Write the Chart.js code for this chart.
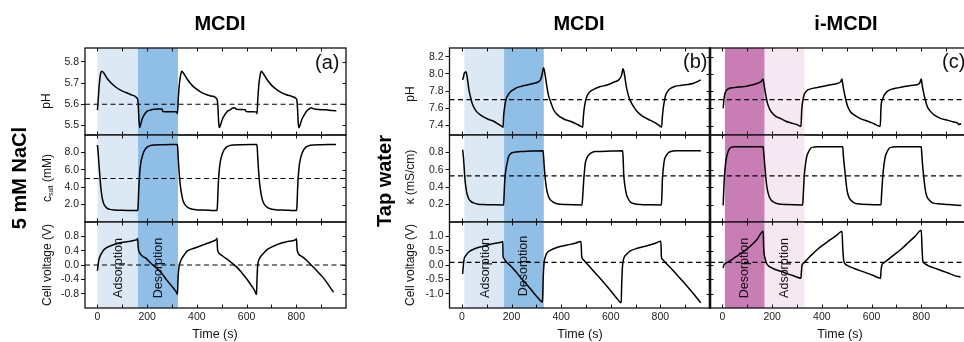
<!DOCTYPE html>
<html>
<head>
<meta charset="utf-8">
<title>MCDI / i-MCDI cycles</title>
<script src="https://cdn.jsdelivr.net/npm/chart.js@4.4.1/dist/chart.umd.min.js"></script>
<style>
  html, body { margin: 0; padding: 0; background: #fff; }
  #stage { position: relative; width: 964px; height: 342px; overflow: hidden; font-family: "Liberation Sans", Arial, sans-serif; color: #000; }
  #stage canvas { position: absolute; left: 0; top: 0; z-index: 1; }
  .txt { position: absolute; z-index: 2; white-space: nowrap; line-height: 1; transform: translate(-50%, -50%); }
  .vert { transform: translate(-50%, -50%) rotate(-90deg); }
  .title { font-size: 20px; font-weight: bold; }
  .rowlab { font-size: 20px; font-weight: bold; }
  .ytitle { font-size: 12px; color: #111; }
  .xtitle { font-size: 12.5px; color: #111; }
  .phase { font-size: 12.5px; color: #111; }
  .plab { font-size: 20px; transform: translate(0, -50%); color: #111; }
  sub { font-size: 7px; vertical-align: -2px; }
</style>
</head>
<body>
<div id="stage">
  <!-- column titles -->
  <div class="txt title" style="left:220px; top:23px">MCDI</div>
  <div class="txt title" style="left:579px; top:23px">MCDI</div>
  <div class="txt title" style="left:846px; top:23px">i-MCDI</div>

  <!-- row labels -->
  <div class="txt vert rowlab" style="left:19px; top:178px">5 mM NaCl</div>
  <div class="txt vert rowlab" style="left:384px; top:181px">Tap water</div>

  <!-- y axis titles -->
  <div class="txt vert ytitle" style="left:46px; top:101px">pH</div>
  <div class="txt vert ytitle" style="left:47px; top:178px">c<sub>salt</sub> (mM)</div>
  <div class="txt vert ytitle" style="left:47px; top:265px">Cell voltage (V)</div>
  <div class="txt vert ytitle" style="left:410px; top:94px">pH</div>
  <div class="txt vert ytitle" style="left:410px; top:177px">κ (mS/cm)</div>
  <div class="txt vert ytitle" style="left:410px; top:265px">Cell voltage (V)</div>

  <!-- x axis titles -->
  <div class="txt xtitle" style="left:215px; top:334px">Time (s)</div>
  <div class="txt xtitle" style="left:580px; top:334px">Time (s)</div>
  <div class="txt xtitle" style="left:840px; top:334px">Time (s)</div>

  <!-- panel letters -->
  <div class="txt plab" style="left:315px; top:62px">(a)</div>
  <div class="txt plab" style="left:683px; top:61px">(b)</div>
  <div class="txt plab" style="left:942px; top:61px">(c)</div>

  <!-- phase annotations -->
  <div class="txt vert phase" style="left:118px; top:268px">Adsorption</div>
  <div class="txt vert phase" style="left:158px; top:268px">Desorption</div>
  <div class="txt vert phase" style="left:485px; top:268px">Adsorption</div>
  <div class="txt vert phase" style="left:523px; top:266px">Desorption</div>
  <div class="txt vert phase" style="left:744px; top:268px">Desorption</div>
  <div class="txt vert phase" style="left:784px; top:268px">Adsorption</div>
</div>

<script>
// ==========================================
// DATA
// ==========================================
const timeLabels = [0, 200, 400, 600, 800];
const timeTicks = [0, 100, 200, 300, 400, 500, 600, 700, 800, 900];

// (a) 5 mM NaCl, MCDI
const tPhA = [0, 3, 8, 13, 18, 25, 40, 55, 75, 95, 115, 135, 150, 158, 162, 164, 167, 170, 174, 180, 188, 198, 212, 228, 245, 260, 263, 290, 318, 322,
  325, 330, 335, 339, 347, 360, 380, 400, 420, 440, 460, 472, 478, 482, 485, 488, 491, 496, 503, 512, 522, 535, 545, 552, 560, 580, 595, 598, 620, 638, 642,
  645, 650, 655, 659, 667, 680, 700, 720, 740, 760, 780, 792, 798, 802, 805, 808, 811, 816, 823, 832, 842, 852, 860, 870, 890, 920, 945, 961];
const phA = [5.572, 5.62, 5.70, 5.745, 5.756, 5.748, 5.72, 5.70, 5.68, 5.665, 5.655, 5.645, 5.638, 5.630, 5.622, 5.60, 5.53, 5.49, 5.505, 5.53, 5.55, 5.565, 5.572, 5.576, 5.577, 5.577, 5.566, 5.565, 5.564, 5.555,
  5.62, 5.70, 5.74, 5.756, 5.745, 5.72, 5.69, 5.67, 5.655, 5.645, 5.638, 5.635, 5.628, 5.62, 5.58, 5.51, 5.49, 5.505, 5.53, 5.55, 5.565, 5.575, 5.582, 5.584, 5.576, 5.575, 5.574, 5.566, 5.565, 5.564, 5.555,
  5.62, 5.70, 5.74, 5.756, 5.745, 5.72, 5.69, 5.67, 5.655, 5.645, 5.638, 5.633, 5.628, 5.62, 5.58, 5.51, 5.49, 5.505, 5.53, 5.55, 5.568, 5.578, 5.583, 5.578, 5.575, 5.574, 5.57, 5.569];

const tSaltA = [0, 3, 6, 9, 12, 15, 19, 24, 30, 38, 50, 70, 100, 130, 162,
  164, 166, 168, 171, 174, 178, 183, 190, 200, 212, 230, 260, 300, 321,
  323, 325, 328, 332, 337, 343, 350, 360, 375, 395, 420, 450, 481,
  483, 485, 487, 490, 493, 497, 502, 509, 519, 531, 550, 580, 620, 641,
  643, 645, 648, 652, 657, 663, 670, 680, 695, 715, 740, 770, 801,
  803, 805, 807, 810, 813, 817, 822, 829, 839, 851, 870, 900, 930, 960];
const saltA = [8.85, 7.9, 6.7, 5.6, 4.5, 3.6, 2.8, 2.2, 1.85, 1.6, 1.45, 1.38, 1.34, 1.33, 1.32,
  2.0, 3.6, 4.8, 5.9, 6.7, 7.3, 7.8, 8.25, 8.6, 8.78, 8.86, 8.89, 8.9, 8.9,
  8.5, 7.4, 6.0, 4.6, 3.5, 2.6, 2.1, 1.75, 1.52, 1.42, 1.37, 1.34, 1.32,
  2.0, 3.6, 4.8, 5.9, 6.7, 7.3, 7.8, 8.25, 8.6, 8.78, 8.86, 8.89, 8.9, 8.9,
  8.5, 7.4, 6.0, 4.6, 3.5, 2.6, 2.1, 1.75, 1.52, 1.42, 1.37, 1.34, 1.32,
  2.0, 3.6, 4.8, 5.9, 6.7, 7.3, 7.8, 8.25, 8.6, 8.78, 8.86, 8.89, 8.9, 8.9];

const tVoltA = [0, 3, 6, 11, 17, 24, 35, 51, 70, 91, 112, 132, 150, 158, 162,
  164, 166, 170, 176, 185, 195, 212, 225, 239, 252, 266, 280, 292, 305, 315, 320, 322,
  324, 326, 329, 334, 342, 350, 360, 385, 413, 440, 467, 478, 481,
  483, 485, 490, 500, 520, 540, 561, 580, 601, 620, 633, 640,
  642, 644, 647, 651, 657, 670, 681, 710, 735, 770, 798, 801,
  803, 805, 810, 820, 835, 856, 880, 909, 930, 950];
const voltA = [-0.16, 0.02, 0.15, 0.25, 0.33, 0.41, 0.48, 0.53, 0.58, 0.62, 0.64, 0.66, 0.69, 0.71, 0.74,
  0.50, 0.40, 0.34, 0.28, 0.23, 0.19, 0.07, -0.01, -0.09, -0.18, -0.30, -0.43, -0.53, -0.64, -0.73, -0.79, -0.82,
  -0.43, -0.20, -0.02, 0.10, 0.21, 0.29, 0.38, 0.46, 0.53, 0.60, 0.67, 0.71, 0.745,
  0.45, 0.38, 0.32, 0.27, 0.17, 0.06, -0.06, -0.21, -0.39, -0.58, -0.72, -0.82,
  -0.40, -0.08, 0.08, 0.17, 0.24, 0.34, 0.42, 0.53, 0.60, 0.66, 0.71, 0.73,
  0.45, 0.38, 0.30, 0.25, 0.17, 0.03, -0.14, -0.36, -0.56, -0.76];

// (b) tap water, MCDI
const tPhB = [3, 6, 9, 13, 16, 19, 23, 28, 34, 40, 47, 57, 67, 87, 108, 128, 145, 161, 166,
  168, 172, 176, 180, 187, 195, 210, 222, 240, 262, 285, 302, 312, 318, 323, 329,
  333, 337, 341, 345, 349, 358, 370, 383, 396, 415, 437, 460, 480, 487,
  489, 493, 498, 504, 515, 531, 555, 585, 610, 632, 640, 645, 649,
  653, 657, 661, 665, 672, 680, 692, 710, 733, 760, 780, 800, 805,
  808, 812, 816, 820, 830, 840, 860, 880, 910, 934, 950, 963];
const phB = [7.93, 7.96, 8.00, 8.02, 8.025, 8.0, 7.93, 7.82, 7.74, 7.67, 7.62, 7.57, 7.54, 7.50, 7.47, 7.45, 7.42, 7.39, 7.38,
  7.50, 7.61, 7.68, 7.72, 7.76, 7.79, 7.82, 7.84, 7.855, 7.87, 7.885, 7.90, 7.915, 7.94, 7.99, 8.07,
  8.03, 7.96, 7.88, 7.81, 7.75, 7.67, 7.58, 7.53, 7.50, 7.47, 7.45, 7.42, 7.39, 7.38,
  7.48, 7.60, 7.68, 7.74, 7.79, 7.82, 7.85, 7.87, 7.90, 7.93, 7.96, 8.00, 8.06,
  8.03, 7.96, 7.88, 7.82, 7.74, 7.68, 7.62, 7.55, 7.50, 7.46, 7.43, 7.39, 7.38,
  7.50, 7.61, 7.68, 7.74, 7.80, 7.83, 7.855, 7.865, 7.875, 7.89, 7.91, 7.93];

const tCondB = [3, 6, 9, 12, 16, 21, 27, 35, 47, 65, 87, 130, 168,
  170, 172, 175, 179, 184, 188, 196, 208, 235, 280, 327,
  329, 332, 336, 340, 346, 353, 365, 383, 420, 484,
  487, 491, 494, 497, 503, 511, 525, 538, 600, 648,
  650, 652, 656, 663, 670, 679, 695, 719, 760, 804,
  806, 808, 812, 816, 825, 834, 850, 867, 963];
const condB = [0.83, 0.75, 0.63, 0.50, 0.40, 0.32, 0.27, 0.24, 0.22, 0.205, 0.20, 0.197, 0.196,
  0.30, 0.44, 0.55, 0.63, 0.70, 0.75, 0.785, 0.80, 0.81, 0.815, 0.82,
  0.76, 0.63, 0.50, 0.40, 0.32, 0.27, 0.235, 0.21, 0.20, 0.196,
  0.30, 0.48, 0.58, 0.67, 0.73, 0.77, 0.80, 0.81, 0.815, 0.82,
  0.72, 0.56, 0.44, 0.32, 0.27, 0.23, 0.21, 0.20, 0.197, 0.196,
  0.30, 0.48, 0.62, 0.71, 0.77, 0.80, 0.815, 0.82, 0.82];

const tVoltB = [3, 6, 9, 14, 20, 30, 47, 70, 101, 130, 161, 165,
  166, 170, 175, 185, 195, 215, 235, 256, 276, 292, 309, 320, 325,
  327, 329, 332, 337, 343, 360, 383, 410, 437, 460, 480,
  483, 488, 500, 517, 545, 571, 598, 625, 642,
  644, 647, 652, 665, 679, 710, 746, 780, 802,
  804, 808, 825, 854, 880, 908, 935, 963];
const voltB = [-0.31, 0.0, 0.21, 0.31, 0.38, 0.47, 0.55, 0.62, 0.69, 0.75, 0.80, 0.82,
  0.30, 0.22, 0.15, 0.06, -0.02, -0.21, -0.42, -0.63, -0.83, -1.00, -1.17, -1.27, -1.30,
  -0.60, -0.20, 0.12, 0.30, 0.42, 0.53, 0.61, 0.67, 0.72, 0.77, 0.82,
  0.30, 0.20, 0.08, -0.08, -0.35, -0.60, -0.88, -1.17, -1.32,
  -0.70, -0.08, 0.22, 0.38, 0.49, 0.59, 0.67, 0.76, 0.83,
  0.30, 0.20, 0.04, -0.22, -0.47, -0.74, -1.02, -1.32];

// (c) tap water, i-MCDI
const tPhC = [3, 6, 9, 14, 20, 47, 80, 101, 130, 155, 164,
  166, 171, 176, 181, 190, 202, 218, 235, 255, 276, 300, 316,
  319, 323, 329, 338, 349, 397, 430, 464, 476, 481,
  484, 491, 497, 504, 515, 531, 555, 585, 610, 635,
  638, 645, 652, 665, 679, 710, 746, 775, 793, 800,
  803, 810, 817, 824, 835, 853, 880, 907, 930, 945, 952, 956, 960];
const phC = [7.60, 7.70, 7.76, 7.80, 7.82, 7.84, 7.85, 7.86, 7.88, 7.91, 7.94,
  7.90, 7.81, 7.73, 7.66, 7.59, 7.54, 7.50, 7.48, 7.45, 7.43, 7.41, 7.39,
  7.58, 7.68, 7.76, 7.80, 7.82, 7.85, 7.87, 7.89, 7.91, 7.94,
  7.88, 7.77, 7.69, 7.62, 7.56, 7.52, 7.48, 7.45, 7.42, 7.39,
  7.62, 7.71, 7.76, 7.80, 7.82, 7.84, 7.86, 7.87, 7.89, 7.94,
  7.88, 7.77, 7.69, 7.62, 7.57, 7.52, 7.48, 7.46, 7.44, 7.43, 7.41, 7.42, 7.41];

const tCondC = [3, 5, 9, 13, 17, 24, 31, 47, 100, 164,
  166, 171, 175, 179, 185, 192, 205, 222, 260, 323,
  325, 329, 334, 339, 347, 356, 370, 383, 484,
  486, 491, 496, 501, 508, 517, 530, 544, 590, 638,
  640, 645, 650, 655, 663, 672, 685, 699, 800,
  802, 806, 811, 816, 823, 833, 845, 867, 910, 961];
const condC = [0.19, 0.35, 0.56, 0.68, 0.75, 0.82, 0.85, 0.865, 0.866, 0.866,
  0.80, 0.63, 0.50, 0.40, 0.32, 0.27, 0.23, 0.21, 0.20, 0.196,
  0.30, 0.52, 0.66, 0.75, 0.81, 0.85, 0.862, 0.866, 0.866,
  0.78, 0.63, 0.49, 0.37, 0.29, 0.25, 0.22, 0.21, 0.20, 0.198,
  0.30, 0.52, 0.66, 0.75, 0.81, 0.85, 0.862, 0.866, 0.866,
  0.78, 0.63, 0.49, 0.37, 0.29, 0.25, 0.22, 0.21, 0.20, 0.19];

const tVoltC = [3, 6, 12, 20, 40, 60, 90, 114, 140, 164,
  166, 168, 173, 179, 190, 208, 235, 262, 290, 316,
  318, 320, 324, 329, 355, 383, 410, 437, 460, 481,
  484, 488, 495, 504, 530, 571, 605, 636,
  638, 641, 645, 652, 685, 719, 750, 775, 800,
  803, 806, 815, 827, 850, 880, 907, 934, 958];
const voltC = [-0.10, 0.0, 0.06, 0.09, 0.20, 0.32, 0.50, 0.67, 0.90, 1.18,
  0.60, 0.38, 0.18, 0.03, -0.06, -0.14, -0.22, -0.31, -0.39, -0.46,
  -0.20, -0.02, 0.05, 0.09, 0.32, 0.55, 0.73, 0.90, 1.04, 1.18,
  0.60, 0.15, 0.03, -0.02, -0.12, -0.25, -0.36, -0.46,
  -0.20, -0.02, 0.05, 0.09, 0.32, 0.55, 0.80, 1.00, 1.21,
  0.60, 0.15, 0.04, -0.02, -0.10, -0.19, -0.28, -0.37, -0.42];

// shaded half-cycles (s) and dashed reference levels
const bandsA = [[0, 163], [163, 324]];
const bandsB = [[10, 170], [170, 330]];
const bandsC = [[10, 170], [170, 330]];
const refA = [5.6, 5.0, 0.0];
const refB = [7.70, 0.53, 0.09];

// y tick labels
const ticksPhA = [5.5, 5.6, 5.7, 5.8];
const ticksSaltA = [2, 4, 6, 8];
const ticksVoltA = [-0.8, -0.4, 0, 0.4, 0.8];
const ticksPhB = [7.4, 7.6, 7.8, 8.0, 8.2];
const ticksCondB = [0.2, 0.4, 0.6, 0.8];
const ticksVoltB = [-1.0, -0.5, 0, 0.5, 1.0];

// ==========================================
// LAYOUT / STYLE
// ==========================================
const FONT = '"Liberation Sans", Arial, sans-serif';
const CANVAS_W = 1000, CANVAS_H = 342;
const COLS = { a: [85, 346], b: [449.5, 710], c: [710, 971] };
const ROWS = [[48, 135], [135, 222], [222, 308]];
const Y_AXIS_W = 40, X_AXIS_H = 22;
const BLUE = ['#dce9f5', '#8fbee6'];
const PINK = ['#c97db5', '#f6e8f2'];

function pairs(t, v) {
    return t.map((x, i) => ({ x: x, y: v[i] }));
}

// background bands for the first adsorption / desorption cycle
function bandPlugin(bands, colors) {
    return {
        id: 'bands',
        beforeDatasetsDraw(chart) {
            const { ctx, chartArea: ca, scales: { x } } = chart;
            ctx.save();
            bands.forEach((b, i) => {
                const x0 = x.getPixelForValue(b[0]);
                const x1 = x.getPixelForValue(b[1]);
                ctx.fillStyle = colors[i];
                ctx.fillRect(x0, ca.top, x1 - x0, ca.bottom - ca.top);
            });
            ctx.restore();
        }
    };
}

// box frame plus the inward ticks on the top, bottom and right sides
function framePlugin(yTicks, innerLeft) {
    return {
        id: 'frame',
        afterDraw(chart) {
            const { ctx, chartArea: ca, scales: { x, y } } = chart;
            ctx.save();
            ctx.strokeStyle = '#111';
            ctx.lineWidth = 1;
            ctx.beginPath();
            timeTicks.forEach(v => {
                const px = Math.round(x.getPixelForValue(v)) + 0.5;
                ctx.moveTo(px, ca.top); ctx.lineTo(px, ca.top + 3.5);
                ctx.moveTo(px, ca.bottom); ctx.lineTo(px, ca.bottom - 3.5);
            });
            yTicks.forEach(v => {
                const py = Math.round(y.getPixelForValue(v)) + 0.5;
                ctx.moveTo(ca.right, py); ctx.lineTo(ca.right - 3.5, py);
                if (innerLeft) {
                    ctx.moveTo(ca.left, py); ctx.lineTo(ca.left + 3.5, py);
                }
            });
            ctx.stroke();
            ctx.lineWidth = 1.3;
            ctx.strokeRect(ca.left, ca.top, ca.right - ca.left, ca.bottom - ca.top);
            if (innerLeft) {
                ctx.lineWidth = 2.6;
                ctx.beginPath();
                ctx.moveTo(ca.left, ca.top - 0.6);
                ctx.lineTo(ca.left, ca.bottom + 0.6);
                ctx.stroke();
            }
            ctx.restore();
        }
    };
}

function makePanel(p) {
    const canvas = document.createElement('canvas');
    canvas.width = CANVAS_W;
    canvas.height = CANVAS_H;
    canvas.style.width = CANVAS_W + 'px';
    canvas.style.height = CANVAS_H + 'px';
    document.getElementById('stage').appendChild(canvas);

    const [left, right] = COLS[p.col];
    const [top, bottom] = ROWS[p.row];
    const showY = p.col !== 'c';
    const bottomRow = p.row === 2;
    const tickFont = { family: FONT, size: 10.5 };

    return new Chart(canvas, {
        type: 'line',
        data: {
            datasets: [
                {
                    data: pairs(p.t, p.v),
                    borderColor: '#000',
                    borderWidth: 1.5,
                    pointRadius: 0,
                    cubicInterpolationMode: 'monotone'
                },
                {
                    data: [{ x: -50, y: p.ref }, { x: 1000, y: p.ref }],
                    borderColor: '#000',
                    borderWidth: 1.2,
                    borderDash: [5, 3.5],
                    pointRadius: 0
                }
            ]
        },
        options: {
            responsive: false,
            animation: false,
            devicePixelRatio: 1,
            events: [],
            layout: {
                padding: {
                    left: left - (showY ? Y_AXIS_W : 0),
                    right: CANVAS_W - right,
                    top: top,
                    bottom: CANVAS_H - bottom - (bottomRow ? X_AXIS_H : 0)
                }
            },
            scales: {
                x: {
                    type: 'linear',
                    min: -50,
                    max: 1000,
                    display: bottomRow,
                    afterBuildTicks: s => { s.ticks = timeLabels.map(value => ({ value })); },
                    afterFit: s => { s.height = bottomRow ? X_AXIS_H : 0; },
                    grid: { drawOnChartArea: false, drawTicks: false },
                    border: { display: false },
                    ticks: {
                        font: tickFont,
                        color: '#222',
                        padding: 3,
                        maxRotation: 0,
                        autoSkip: false,
                        callback: v => String(v)
                    }
                },
                y: {
                    type: 'linear',
                    min: p.min,
                    max: p.max,
                    display: showY,
                    afterBuildTicks: s => { s.ticks = p.yTicks.map(value => ({ value })); },
                    afterFit: s => { s.width = showY ? Y_AXIS_W : 0; },
                    grid: { drawOnChartArea: false, drawTicks: true, tickLength: 4, color: '#111', lineWidth: 1 },
                    border: { display: false },
                    ticks: {
                        font: tickFont,
                        color: '#222',
                        padding: 2,
                        autoSkip: false,
                        callback: v => v.toFixed(1)
                    }
                }
            },
            plugins: {
                legend: { display: false },
                tooltip: { enabled: false }
            }
        },
        plugins: [bandPlugin(p.bands, p.colors), framePlugin(p.yTicks, p.col === 'c')]
    });
}

// ==========================================
// BUILD THE NINE PANELS
// ==========================================
[
    { col: 'a', row: 0, t: tPhA, v: phA, ref: refA[0], min: 5.455, max: 5.865, yTicks: ticksPhA, bands: bandsA, colors: BLUE },
    { col: 'a', row: 1, t: tSaltA, v: saltA, ref: refA[1], min: 0, max: 10, yTicks: ticksSaltA, bands: bandsA, colors: BLUE },
    { col: 'a', row: 2, t: tVoltA, v: voltA, ref: refA[2], min: -1.2, max: 1.2, yTicks: ticksVoltA, bands: bandsA, colors: BLUE },
    { col: 'b', row: 0, t: tPhB, v: phB, ref: refB[0], min: 7.29, max: 8.30, yTicks: ticksPhB, bands: bandsB, colors: BLUE },
    { col: 'b', row: 1, t: tCondB, v: condB, ref: refB[1], min: 0, max: 1.0, yTicks: ticksCondB, bands: bandsB, colors: BLUE },
    { col: 'b', row: 2, t: tVoltB, v: voltB, ref: refB[2], min: -1.5, max: 1.5, yTicks: ticksVoltB, bands: bandsB, colors: BLUE },
    { col: 'c', row: 0, t: tPhC, v: phC, ref: refB[0], min: 7.29, max: 8.30, yTicks: ticksPhB, bands: bandsC, colors: PINK },
    { col: 'c', row: 1, t: tCondC, v: condC, ref: refB[1], min: 0, max: 1.0, yTicks: ticksCondB, bands: bandsC, colors: PINK },
    { col: 'c', row: 2, t: tVoltC, v: voltC, ref: refB[2], min: -1.5, max: 1.5, yTicks: ticksVoltB, bands: bandsC, colors: PINK }
].forEach(makePanel);
</script>
</body>
</html>
